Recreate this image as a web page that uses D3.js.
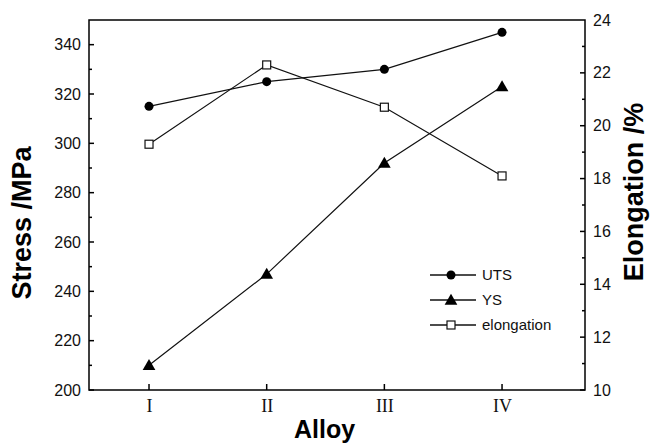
<!DOCTYPE html>
<html>
<head>
<meta charset="utf-8">
<script src="https://cdn.jsdelivr.net/npm/d3@7"></script>
<style>
body { margin: 0; background: #fff; }
svg { font-family: "Liberation Sans", Arial, sans-serif; }
.roman { font-family: "Liberation Serif", "Times New Roman", serif; }
</style>
</head>
<body>
<script>
var alloys = ["I", "II", "III", "IV"];
var uts = [315, 325, 330, 345];
var ys = [210, 247, 292, 323];
var elongation = [19.3, 22.3, 20.7, 18.1];
var stressTicks = [200, 220, 240, 260, 280, 300, 320, 340];
var elongTicks = [10, 12, 14, 16, 18, 20, 22, 24];

var margin = {top: 20, right: 66, bottom: 55, left: 89},
    width = 651 - margin.left - margin.right,
    height = 445 - margin.top - margin.bottom;

var svg = d3.select("body").append("svg")
    .attr("width", 651)
    .attr("height", 445)
  .append("g")
    .attr("transform", "translate(" + margin.left + "," + margin.top + ")");

var x = d3.scaleLinear().domain([0.49, 4.705]).range([0, width]);
var y = d3.scaleLinear().domain([200, 350]).range([height, 0]);
var y2 = d3.scaleLinear().domain([10, 24]).range([height, 0]);

// frame
svg.append("rect")
    .attr("width", width).attr("height", height)
    .style("fill", "none").style("stroke", "#000").style("stroke-width", 1.5);

// left axis
var yAxis = svg.append("g")
    .call(d3.axisLeft(y).tickValues(stressTicks).tickSize(0).tickPadding(8));
yAxis.select(".domain").remove();
yAxis.selectAll("text").style("font-size", "16px").style("fill", "#111");
svg.selectAll(".ytick").data(d3.range(200, 350, 10))
  .enter().append("line")
    .attr("x1", 0).attr("x2", function(d) { return d % 20 == 0 ? 5 : 3; })
    .attr("y1", function(d) { return y(d); }).attr("y2", function(d) { return y(d); })
    .style("stroke", "#000").style("stroke-width", 1.5);

// right axis
var y2Axis = svg.append("g")
    .attr("transform", "translate(" + width + ",0)")
    .call(d3.axisRight(y2).tickValues(elongTicks).tickSize(0).tickPadding(8));
y2Axis.select(".domain").remove();
y2Axis.selectAll("text").style("font-size", "16px").style("fill", "#111");
svg.selectAll(".y2tick").data(d3.range(10, 24, 1))
  .enter().append("line")
    .attr("x1", width).attr("x2", function(d) { return width - (d % 2 == 0 ? 5 : 3); })
    .attr("y1", function(d) { return y2(d); }).attr("y2", function(d) { return y2(d); })
    .style("stroke", "#000").style("stroke-width", 1.5);

// x axis
var xAxis = svg.append("g")
    .attr("transform", "translate(0," + height + ")")
    .call(d3.axisBottom(x).tickValues([1, 2, 3, 4])
      .tickFormat(function(d) { return alloys[d - 1]; })
      .tickSize(0).tickPadding(9));
xAxis.select(".domain").remove();
xAxis.selectAll("text").attr("class", "roman").style("font-size", "18px").style("fill", "#111");
svg.selectAll(".xtick").data([1, 2, 3, 4])
  .enter().append("line")
    .attr("x1", function(d) { return x(d); }).attr("x2", function(d) { return x(d); })
    .attr("y1", height).attr("y2", height - 6)
    .style("stroke", "#000").style("stroke-width", 1.5);

// axis titles
svg.append("text")
    .attr("transform", "translate(-58," + 203 + ") rotate(-90)")
    .attr("text-anchor", "middle")
    .style("font-size", "27px").style("font-weight", "bold")
    .text("Stress /MPa");
svg.append("text")
    .attr("transform", "translate(" + (width + 58) + "," + 172 + ") rotate(-90)")
    .attr("text-anchor", "middle")
    .style("font-size", "27px").style("font-weight", "bold")
    .text("Elongation /%");
svg.append("text")
    .attr("x", x(2.5) - 1).attr("y", height + 48)
    .attr("text-anchor", "middle")
    .style("font-size", "25px").style("font-weight", "bold")
    .text("Alloy");

var line = d3.line().x(function(d, i) { return x(i + 1); });

function drawSeries(vals, scale) {
  svg.append("path")
      .datum(vals)
      .attr("d", line.y(function(d) { return scale(d); }))
      .style("fill", "none").style("stroke", "#111").style("stroke-width", 1.2);
}
drawSeries(uts, y);
drawSeries(ys, y);
drawSeries(elongation, y2);

var tri = d3.symbol().type(d3.symbolTriangle).size(70);

svg.selectAll(".uts").data(uts)
  .enter().append("circle")
    .attr("cx", function(d, i) { return x(i + 1); })
    .attr("cy", function(d) { return y(d); })
    .attr("r", 4.5).style("fill", "#000");

svg.selectAll(".ys").data(ys)
  .enter().append("path")
    .attr("d", tri)
    .attr("transform", function(d, i) { return "translate(" + x(i + 1) + "," + (y(d) + 1) + ")"; })
    .style("fill", "#000");

svg.selectAll(".el").data(elongation)
  .enter().append("rect")
    .attr("x", function(d, i) { return x(i + 1) - 4; })
    .attr("y", function(d) { return y2(d) - 4; })
    .attr("width", 8).attr("height", 8)
    .style("fill", "#fff").style("stroke", "#111").style("stroke-width", 1.2);

// legend
var legend = svg.append("g").attr("transform", "translate(" + (430 - margin.left) + "," + (275 - margin.top) + ")");
var items = ["UTS", "YS", "elongation"];
items.forEach(function(name, i) {
  var g = legend.append("g").attr("transform", "translate(0," + i * 25 + ")");
  g.append("line").attr("x1", 0).attr("x2", 46).attr("y1", 0).attr("y2", 0)
      .style("stroke", "#111").style("stroke-width", 1.3);
  if (i == 0) g.append("circle").attr("cx", 21).attr("r", 4.5).style("fill", "#000");
  if (i == 1) g.append("path").attr("d", tri).attr("transform", "translate(21,1)").style("fill", "#000");
  if (i == 2) g.append("rect").attr("x", 17).attr("y", -4).attr("width", 8).attr("height", 8)
      .style("fill", "#fff").style("stroke", "#111").style("stroke-width", 1.2);
  g.append("text").attr("x", 52).attr("y", 0).attr("dy", "0.35em")
      .style("font-size", "15px").style("fill", "#111").text(name);
});
</script>
</body>
</html>
